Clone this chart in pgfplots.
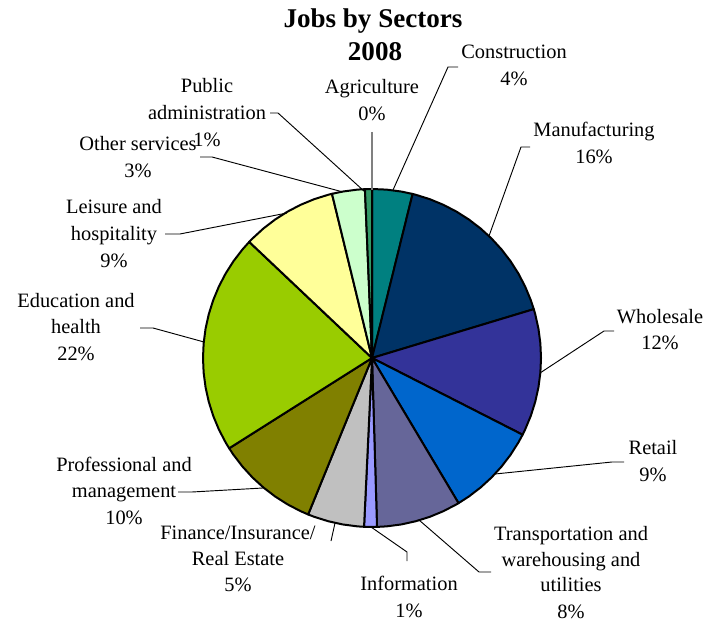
\documentclass[border=0pt]{standalone}
\usepackage{pgfplots}
\pgfplotsset{compat=1.18}
\usepackage{fontspec}
\setmainfont{Liberation Serif}
\definecolor{cConst}{HTML}{008080}
\definecolor{cManu}{HTML}{003366}
\definecolor{cWhole}{HTML}{333399}
\definecolor{cRetail}{HTML}{0066CC}
\definecolor{cTrans}{HTML}{666699}
\definecolor{cInfo}{HTML}{9999FF}
\definecolor{cFin}{HTML}{C0C0C0}
\definecolor{cProf}{HTML}{808000}
\definecolor{cEdu}{HTML}{99CC00}
\definecolor{cLeis}{HTML}{FFFF99}
\definecolor{cOther}{HTML}{CCFFCC}
\definecolor{cPub}{HTML}{339966}
\newcommand{\lfont}{\fontsize{15.3}{20.25}\selectfont}
\newcommand{\lab}[3]{\node[anchor=base,inner sep=0pt,font=\lfont] at (axis cs:#1,#2) {#3};}
\begin{document}
\begin{tikzpicture}
\begin{axis}[
  hide axis, scale only axis, width=534pt, height=468pt,
  xmin=-372, xmax=340, ymin=-266, ymax=358,
  clip=false,
  every axis plot/.append style={draw=black, line width=1.5pt, line join=round, data cs=polar},
]
% slices: (polar angle in degrees, radius); shares clockwise from 12 o'clock
% Agriculture 0%, Construction 3.9%, Manufacturing 16.5%, Wholesale 12.2%, Retail 8.9%,
% Transportation 8.1%, Information 1.2%, Finance 5.4%, Professional 9.9%, Education 21.0%,
% Leisure 9.2%, Other 3.1%, Public administration 0.7%
\addplot[fill=cConst] coordinates {(0,0) (90,169) (85,169) (80,169) (76.1,169)} -- cycle;
\addplot[fill=cManu] coordinates {(0,0) (76.1,169) (75,169) (70,169) (65,169) (60,169) (55,169) (50,169) (45,169) (40,169) (35,169) (30,169) (25,169) (20,169) (16.8,169)} -- cycle;
\addplot[fill=cWhole] coordinates {(0,0) (16.8,169) (15,169) (10,169) (5,169) (0,169) (-5,169) (-10,169) (-15,169) (-20,169) (-25,169) (-27,169)} -- cycle;
\addplot[fill=cRetail] coordinates {(0,0) (-27,169) (-30,169) (-35,169) (-40,169) (-45,169) (-50,169) (-55,169) (-59.2,169)} -- cycle;
\addplot[fill=cTrans] coordinates {(0,0) (-59.2,169) (-60,169) (-65,169) (-70,169) (-75,169) (-80,169) (-85,169) (-88.3,169)} -- cycle;
\addplot[fill=cInfo] coordinates {(0,0) (-88.3,169) (-90,169) (-92.7,169)} -- cycle;
\addplot[fill=cFin] coordinates {(0,0) (-92.7,169) (-95,169) (-100,169) (-105,169) (-110,169) (-112.2,169)} -- cycle;
\addplot[fill=cProf] coordinates {(0,0) (-112.2,169) (-115,169) (-120,169) (-125,169) (-130,169) (-135,169) (-140,169) (-145,169) (-147.7,169)} -- cycle;
\addplot[fill=cEdu] coordinates {(0,0) (-147.7,169) (-150,169) (-155,169) (-160,169) (-165,169) (-170,169) (-175,169) (-180,169) (-185,169) (-190,169) (-195,169) (-200,169) (-205,169) (-210,169) (-215,169) (-220,169) (-223.4,169)} -- cycle;
\addplot[fill=cLeis] coordinates {(0,0) (-223.4,169) (-225,169) (-230,169) (-235,169) (-240,169) (-245,169) (-250,169) (-255,169) (-256.3,169)} -- cycle;
\addplot[fill=cOther] coordinates {(0,0) (-256.3,169) (-260,169) (-265,169) (-267.6,169)} -- cycle;
\addplot[fill=cPub] coordinates {(0,0) (-267.6,169) (-270,169)} -- cycle;
% bounding box
\path (axis cs:-372,-266) rectangle (axis cs:340,358);
% leader lines
\draw[line width=0.7pt] (axis cs:21,168) -- (axis cs:76,291) -- (axis cs:86,291);
\draw[line width=0.8pt, gray] (axis cs:0,226) -- (axis cs:0,168);
\draw[line width=0.7pt] (axis cs:-102,245) -- (axis cs:-94,245) -- (axis cs:-7,166);
\draw[line width=0.7pt] (axis cs:-172,201) -- (axis cs:-160,201) -- (axis cs:-29,166);
\draw[line width=0.7pt] (axis cs:-207,124) -- (axis cs:-192,124) -- (axis cs:-85,145);
\draw[line width=0.7pt] (axis cs:-232,30) -- (axis cs:-219,30) -- (axis cs:-168,16);
\draw[line width=0.7pt] (axis cs:-194,-134) -- (axis cs:-180,-134) -- (axis cs:-109,-130);
\draw[line width=0.7pt] (axis cs:-37,-165) -- (axis cs:-41,-183);
\draw[line width=0.7pt] (axis cs:-1,-169) -- (axis cs:35,-194) -- (axis cs:35,-203);
\draw[line width=0.7pt] (axis cs:47,-162) -- (axis cs:107,-214) -- (axis cs:119,-214);
\draw[line width=0.7pt] (axis cs:123,-116) -- (axis cs:240,-104) -- (axis cs:252,-104);
\draw[line width=0.7pt] (axis cs:168,-15) -- (axis cs:232,27) -- (axis cs:242,27);
\draw[line width=0.7pt] (axis cs:117,122) -- (axis cs:149,211) -- (axis cs:158,211);
% title
\node[anchor=base,inner sep=0pt,font=\fontsize{20.3}{24}\selectfont\bfseries] at (axis cs:1,330) {Jobs by Sectors};
\node[anchor=base,inner sep=0pt,font=\fontsize{20.3}{24}\selectfont\bfseries] at (axis cs:3,297) {2008};
% labels
\lab{142}{299}{Construction}
\lab{142}{272}{4\%}
\lab{0}{264}{Agriculture}
\lab{0}{237}{0\%}
\lab{-165}{265}{Public}
\lab{-165}{238}{administration}
\lab{-165}{211}{1\%}
\lab{-234}{207}{Other services}
\lab{-234}{180}{3\%}
\lab{-258}{144}{Leisure and}
\lab{-258}{117}{hospitality}
\lab{-258}{90}{9\%}
\lab{-296}{50}{Education and}
\lab{-296}{24}{health}
\lab{-296}{-3}{22\%}
\lab{-248}{-113}{Professional and}
\lab{-248}{-139}{management}
\lab{-248}{-166}{10\%}
\lab{-134}{-181}{Finance/Insurance/}
\lab{-134}{-207}{Real Estate}
\lab{-134}{-233}{5\%}
\lab{37}{-232}{Information}
\lab{37}{-259}{1\%}
\lab{199}{-182}{Transportation and}
\lab{199}{-208}{warehousing and}
\lab{199}{-233}{utilities}
\lab{199}{-260}{8\%}
\lab{281}{-96}{Retail}
\lab{281}{-123}{9\%}
\lab{288}{34}{Wholesale}
\lab{288}{8}{12\%}
\lab{222}{221}{Manufacturing}
\lab{222}{194}{16\%}
\end{axis}
\end{tikzpicture}
\end{document}
